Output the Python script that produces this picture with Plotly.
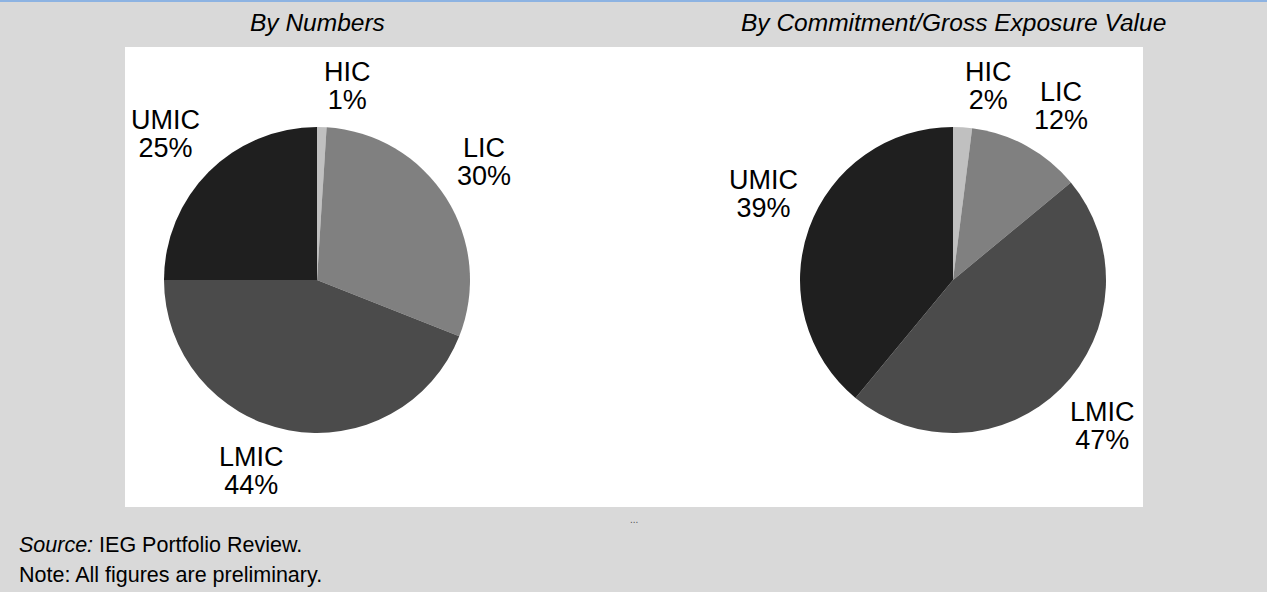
import numpy as np
import plotly.graph_objects as go

# income groups, clockwise from 12 o'clock
groups = ['HIC', 'LIC', 'LMIC', 'UMIC']
by_numbers = [1, 30, 44, 25]
by_value = [2, 12, 47, 39]
group_colors = ['#c0c0c0', '#808080', '#4b4b4b', '#1f1f1f']
titles = ['By Numbers', 'By Commitment/Gross Exposure Value']
source_note = '<i>Source:</i> IEG Portfolio Review.'
prelim_note = 'Note: All figures are preliminary.'

W, H = 1267, 592
BG = '#d9d9d9'
FONT = 'Liberation Sans, Arial, sans-serif'

pie_cx = [317, 953]   # pixel centres of the two pies
pie_cy = 280
pie_r = 153


def px_x(x):
    return x / W


def px_y(y):
    return 1 - y / H


def label_annotations(values, cx):
    # put each label just outside the slice edge, at the slice mid-angle
    out = []
    fr = np.array(values, dtype=float) / np.sum(values)
    starts = np.concatenate([[0], np.cumsum(fr)[:-1]])
    mids = (starts + fr / 2) * 2 * np.pi
    for lab, v, th in zip(groups, values, mids):
        s, c = np.sin(th), np.cos(th)
        x = cx + (pie_r + 10) * s
        y = pie_cy - (pie_r + 10) * c
        xa = 'left' if s >= 0 else 'right'
        if c > 0.3:
            ya = 'bottom'
        elif c < -0.3:
            ya = 'top'
        else:
            ya = 'middle'
        # small base font keeps the line gap tight, spans set the glyph size
        txt = (f"<span style='font-size:27px'>{lab}</span><br>"
               f"<span style='font-size:27px'>{v}%</span>")
        out.append(dict(x=px_x(x), y=px_y(y), xref='paper', yref='paper',
                        text=txt, showarrow=False, xanchor=xa, yanchor=ya,
                        align='center', font=dict(family=FONT, size=21.5, color='#000000')))
    return out


fig = go.Figure()
annotations = []
for vals, title, cx in zip([by_numbers, by_value], titles, pie_cx):
    fig.add_trace(go.Pie(
        labels=groups, values=vals, sort=False, direction='clockwise', rotation=0,
        marker=dict(colors=group_colors, line=dict(width=0)),
        textinfo='none', hoverinfo='label+percent', showlegend=False,
        domain=dict(x=[px_x(cx - pie_r), px_x(cx + pie_r)],
                    y=[px_y(pie_cy + pie_r), px_y(pie_cy - pie_r)]),
    ))
    annotations += label_annotations(vals, cx)
    annotations.append(dict(x=px_x(cx), y=px_y(22), xref='paper', yref='paper',
                            text=f'<i>{title}</i>', showarrow=False,
                            xanchor='center', yanchor='middle',
                            font=dict(family=FONT, size=24.5, color='#000000')))

annotations.append(dict(x=px_x(634), y=px_y(519), xref='paper', yref='paper', text='...',
                        showarrow=False, xanchor='center', yanchor='middle',
                        font=dict(family=FONT, size=10, color='#555555')))
for txt, ypx in [(source_note, 545), (prelim_note, 575)]:
    annotations.append(dict(x=px_x(17), y=px_y(ypx), xref='paper', yref='paper',
                            text=txt, showarrow=False, xanchor='left', yanchor='middle',
                            font=dict(family=FONT, size=21.5, color='#000000')))

shapes = [
    # white chart area
    dict(type='rect', xref='paper', yref='paper', layer='below',
         x0=px_x(125), x1=px_x(1143), y0=px_y(507), y1=px_y(47),
         fillcolor='#ffffff', line=dict(width=0)),
    # blue rule at the top
    dict(type='rect', xref='paper', yref='paper', layer='above',
         x0=0, x1=1, y0=px_y(2), y1=1,
         fillcolor='#8db3e2', line=dict(width=0)),
]

fig.update_layout(
    width=W, height=H,
    margin=dict(l=0, r=0, t=0, b=0),
    paper_bgcolor=BG, plot_bgcolor=BG,
    annotations=annotations, shapes=shapes,
)

fig.write_html("out.html", config={'displayModeBar': False},
               post_script="document.body.style.margin='0';document.body.style.overflow='hidden';")
